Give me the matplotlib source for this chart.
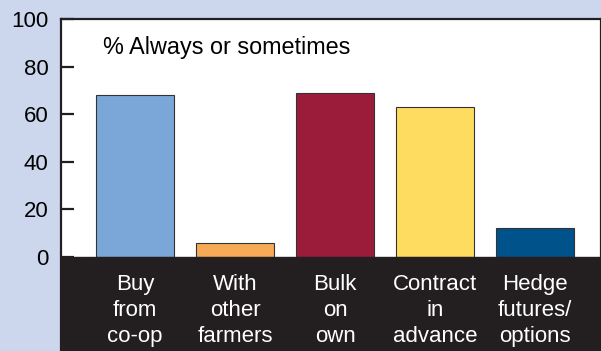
import matplotlib
matplotlib.use('Agg')
import matplotlib.pyplot as plt

plt.rcParams['font.family'] = ['Liberation Sans', 'DejaVu Sans']

categories = ['Buy\nfrom\nco-op', 'With\nother\nfarmers', 'Bulk\non\nown',
              'Contract\nin\nadvance', 'Hedge\nfutures/\noptions']
values = [68, 6, 69, 63, 12]
colors = ['#7ba7d8', '#f6a957', '#9b1b3b', '#fedc5f', '#00528a']
yticks = [0, 20, 40, 60, 80, 100]

fig = plt.figure(figsize=(6.01, 3.51), dpi=100, facecolor='#ccd7ee')
ax = fig.add_axes([61/601, 0, 540/601, 332/351])

x = range(len(values))
ax.bar(x, values, width=0.78, color=colors, edgecolor='#333333', linewidth=0.8, zorder=2)

# black band for the category labels
ax.axhspan(-40, 0, color='#231f20', zorder=3)
for i, lab in enumerate(categories):
    ax.text(i, -22.5, lab, color='white', ha='center', va='center',
            fontsize=16, linespacing=1.3, zorder=4)

ax.text(-0.32, 88, '% Always or sometimes', fontsize=16.8, va='center', ha='left')

ax.set_xlim(-0.74, 4.66)
ax.set_ylim(-39.5, 100)
ax.set_yticks(yticks)
ax.set_yticklabels([str(t) for t in yticks], fontsize=16)
ax.set_xticks([])
ax.tick_params(axis='y', direction='in', length=9, width=1.6, pad=9, color='#231f20')
for s in ['left', 'top', 'right']:
    ax.spines[s].set_linewidth(1.6)
    ax.spines[s].set_color('#231f20')
ax.spines['bottom'].set_visible(False)
ax.set_facecolor('white')

fig.savefig('out.png', dpi=100, facecolor=fig.get_facecolor())
